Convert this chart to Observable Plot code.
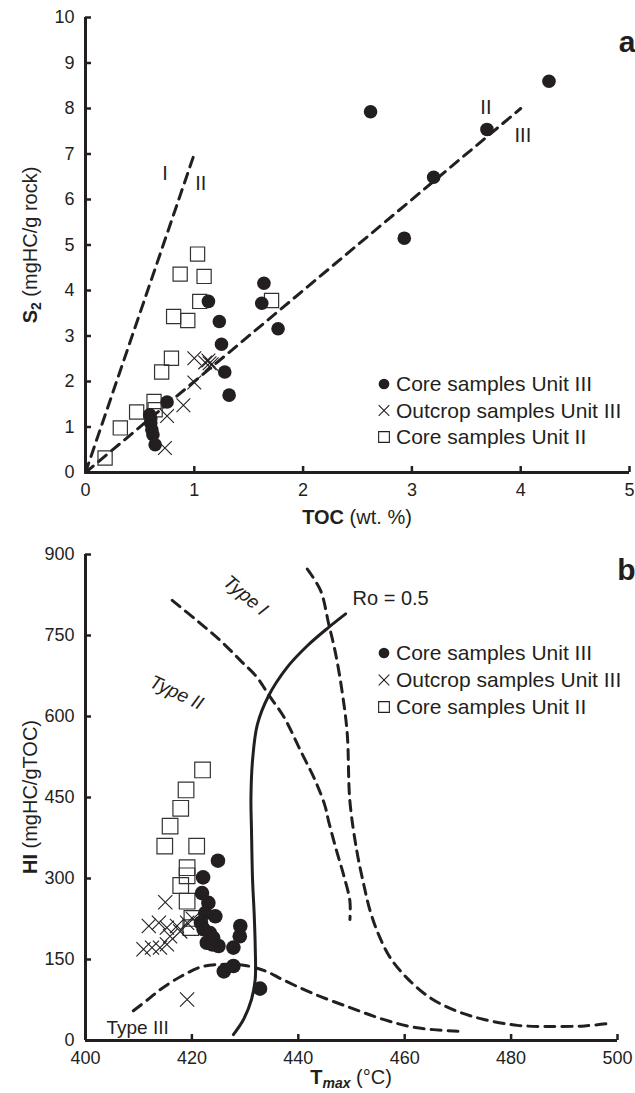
<!DOCTYPE html>
<html><head><meta charset="utf-8">
<script src="https://cdn.jsdelivr.net/npm/d3@7"></script>
<script src="https://cdn.jsdelivr.net/npm/@observablehq/plot@0.6"></script>
<style>
body{margin:0;background:#fff;font-family:"Liberation Sans",Arial,sans-serif;}
#chart{width:635px;height:1093px;overflow:hidden;}
svg{display:block}
</style></head><body><div id="chart"></div>
<script>
// ---------- Panel a : S2 vs TOC ----------
const aXTicks = [0,1,2,3,4,5];
const aYTicks = [0,1,2,3,4,5,6,7,8,9,10];
const aCoreIII_TOC = [4.26,2.62,3.69,3.20,2.93,1.64,1.62,1.77,1.13,1.23,1.25,1.28,1.32,0.75,0.59,0.60,0.61,0.62,0.64,0.60];
const aCoreIII_S2  = [8.60,7.93,7.54,6.49,5.15,4.16,3.72,3.16,3.76,3.32,2.82,2.21,1.70,1.55,1.27,1.09,0.94,0.83,0.61,1.18];
const aOutcropIII_TOC = [1.00,1.10,1.13,1.16,1.14,1.00,0.90,0.75,0.73];
const aOutcropIII_S2  = [2.51,2.42,2.46,2.38,2.40,1.98,1.48,1.24,0.54];
const aCoreII_TOC = [1.03,0.87,1.09,1.05,1.71,0.81,0.94,0.79,0.70,0.63,0.64,0.47,0.32,0.18];
const aCoreII_S2  = [4.80,4.36,4.31,3.76,3.78,3.43,3.34,2.51,2.21,1.56,1.38,1.33,0.98,0.32];
const aLineI_TOC = [0,1],  aLineI_S2 = [0,7];
const aLineIII_TOC = [0,4], aLineIII_S2 = [0,8];
const aNoteText = ["I","II","II","III"];
const aNoteTOC  = [0.73,1.06,3.68,4.02];
const aNoteS2   = [6.58,6.36,8.03,7.41];

// ---------- Panel b : HI vs Tmax ----------
const bXTicks = [400,420,440,460,480,500];
const bYTicks = [0,150,300,450,600,750,900];
const bCoreIII_T  = [424.9,422.1,421.9,423.1,424.4,422.2,423.4,429.1,429.0,422.8,425.0,427.8,426.0,427.8,432.8,422.5,421.7,423.8,424.0];
const bCoreIII_HI = [333,302,273,255,230,206,199,212,193,181,175,172,128,138,96,236,218,178,190];
const bOutcropIII_T  = [415.0,411.9,413.8,415.3,417.2,417.8,419.1,410.9,412.5,414.0,415.3,415.9,419.1,420.2];
const bOutcropIII_HI = [256,212,218,209,212,202,218,169,172,172,178,193,76,225];
const bCoreII_T  = [422.0,418.9,417.9,415.9,414.9,420.9,419.1,419.1,417.9,419.1,420.0,419.8];
const bCoreII_HI = [501,464,430,397,360,360,320,305,287,258,226,209];
const bRo_T  = [427.8,429.7,431.2,431.9,431.9,431.7,431.4,431.2,431.1,431.4,432.3,434.4,437.9,441.7,445.7,448.9];
const bRo_HI = [11,39,76,113,175,236,298,391,450,519,585,638,691,731,765,790];
const bTypeI_T  = [441.7,444.2,445.7,447.0,448.3,449.2,449.7,451.0,452.3,453.5,455.1,457.3,460.4,464.8,469.9,474.9,481.2,487.5,493.8,497.9];
const bTypeI_HI = [873,833,772,717,642,568,443,351,289,240,196,153,116,79,54,39,28,26,27,31];
const bTypeII_T  = [416.3,420.9,425.3,429.1,432.2,434.5,437.3,440.4,443.2,445.0,445.7,447.2,448.5,449.7,449.7];
const bTypeII_HI = [815,778,741,704,673,639,599,537,481,435,406,351,307,258,224];
const bTypeIII_T  = [409,412,414,418,422,426,430,434,437,443,450,456,462,470];
const bTypeIII_HI = [55,78,94,119,137,141,139,128,113,86,60,39,24,17];
const bTypeText = ["Type I","Type II"];
const bTypeT    = [430.1,417.1];
const bTypeHI   = [824,644];
const bTypeRot  = [40,25];
const bType3 = {text: "Type III", T: 409.8, HI: 24};
const bRoLabel = {text: "Ro = 0.5", T: 450.2, HI: 818};

const legendLabels = ["Core samples Unit III","Outcrop samples Unit III","Core samples Unit II"];

const ink = "#231f20";
const FONT = "Liberation Sans, Arial, Helvetica, sans-serif";
const pts = (xs, ys) => xs.map((x,i) => ({x, y: ys[i]}));
const dash = "10,7";

function axes(xT, yT) {
  return [
    Plot.axisY({ticks: yT, tickSize: -6, tickPadding: 17, tickFormat: d => String(d), strokeWidth: 2.5, label: null, fontSize: 18, fill: ink, stroke: ink}),
    Plot.axisX({ticks: xT, tickSize: -6, tickPadding: 17, tickFormat: d => String(d), strokeWidth: 2.5, label: null, fontSize: 18, fill: ink, stroke: ink}),
    Plot.ruleX([xT[0]], {stroke: ink, strokeWidth: 3}),
    Plot.ruleY([yT[0]], {stroke: ink, strokeWidth: 3})
  ];
}
function samples(core3, out3, core2, rc, rs, rx) {
  return [
    Plot.dot(core2, {x:"x", y:"y", symbol:"square", r: rs, stroke: "#333", fill: "none", strokeWidth: 1.2}),
    Plot.dot(out3, {x:"x", y:"y", symbol:"times", r: rx, stroke: ink, strokeWidth: 1.1}),
    Plot.dot(core3, {x:"x", y:"y", r: rc, fill: ink, stroke: "none"})
  ];
}
function addLegend(svg, x0, y0, dy) {
  const g = d3.select(svg).append("g").attr("font-family", FONT).attr("font-size", 21).attr("fill", ink).attr("text-anchor", "start");
  const syms = [d3.symbol(d3.symbolCircle, 90)(), d3.symbol(d3.symbolTimes, 75)(), d3.symbol(d3.symbolSquare, 115)()];
  syms.forEach((p, i) => {
    const y = y0 + i*dy;
    const path = g.append("path").attr("d", p).attr("transform", `translate(${x0},${y})`);
    if (i === 0) path.attr("fill", ink);
    else path.attr("fill", "none").attr("stroke", ink).attr("stroke-width", 1.1);
    g.append("text").attr("x", x0 + 12).attr("y", y).attr("dy", "0.35em").text(legendLabels[i]);
  });
}
function title(svg, x, y, parts, rotate) {
  const t = d3.select(svg).append("text").attr("font-family", FONT).attr("font-size", 20).attr("fill", ink)
    .attr("text-anchor", "middle")
    .attr("transform", `translate(${x},${y})` + (rotate ? " rotate(-90)" : ""));
  parts.forEach(p => {
    const s = t.append("tspan").text(p.t);
    if (p.b) s.attr("font-weight", "bold");
    if (p.i) s.attr("font-style", "italic");
    if (p.sub) s.attr("font-size", 14).attr("dy", 4);
    if (p.reset) s.attr("dy", -4);
  });
}

const plotA = Plot.plot({
  width: 635, height: 540, marginTop: 17, marginBottom: 68, marginLeft: 85, marginRight: 6,
  style: {fontFamily: FONT, fontSize: "18px", color: ink, background: "white", overflow: "visible"},
  x: {domain: [0,5]}, y: {domain: [0,10]},
  marks: [
    ...axes(aXTicks, aYTicks),
    Plot.line(pts(aLineI_TOC, aLineI_S2), {x:"x", y:"y", stroke: ink, strokeWidth: 3, strokeDasharray: dash}),
    Plot.line(pts(aLineIII_TOC, aLineIII_S2), {x:"x", y:"y", stroke: ink, strokeWidth: 3, strokeDasharray: dash}),
    ...samples(pts(aCoreIII_TOC, aCoreIII_S2), pts(aOutcropIII_TOC, aOutcropIII_S2), pts(aCoreII_TOC, aCoreII_S2), 6.8, 8, 6.3),
    Plot.text(aNoteText, {x: (d,i) => aNoteTOC[i], y: (d,i) => aNoteS2[i], text: d => d, fontSize: 20, fill: ink}),
    Plot.text(["a"], {frameAnchor: "top-right", text: d => d, fontSize: 30, fontWeight: "bold", fill: ink, textAnchor: "end", dx: 6, dy: 13})
  ]
});
title(plotA, 357, 524, [{t: "TOC", b: true}, {t: " (wt. %)"}], false);
title(plotA, 37, 245, [{t: "S", b: true}, {t: "2", b: true, sub: true}, {t: " (mgHC/g rock)", reset: true}], true);
addLegend(plotA, 384, 384, 26.5);

const plotB = Plot.plot({
  width: 635, height: 553, marginTop: 14, marginBottom: 53, marginLeft: 85, marginRight: 18,
  style: {fontFamily: FONT, fontSize: "18px", color: ink, background: "white", overflow: "visible"},
  x: {domain: [400,500]}, y: {domain: [0,900]},
  marks: [
    ...axes(bXTicks, bYTicks),
    Plot.line(pts(bTypeI_T, bTypeI_HI), {x:"x", y:"y", stroke: ink, strokeWidth: 3, strokeDasharray: dash, curve: "catmull-rom"}),
    Plot.line(pts(bTypeII_T, bTypeII_HI), {x:"x", y:"y", stroke: ink, strokeWidth: 3, strokeDasharray: dash, curve: "catmull-rom"}),
    Plot.line(pts(bTypeIII_T, bTypeIII_HI), {x:"x", y:"y", stroke: ink, strokeWidth: 3, strokeDasharray: dash, curve: "catmull-rom"}),
    Plot.line(pts(bRo_T, bRo_HI), {x:"x", y:"y", stroke: ink, strokeWidth: 3, curve: "catmull-rom"}),
    ...samples(pts(bCoreIII_T, bCoreIII_HI), pts(bOutcropIII_T, bOutcropIII_HI), pts(bCoreII_T, bCoreII_HI), 7.3, 8.8, 6.5),
    Plot.text(bTypeText, {x: (d,i) => bTypeT[i], y: (d,i) => bTypeHI[i], text: d => d, rotate: (d,i) => bTypeRot[i],
      fontStyle: "italic", fontSize: 19, fill: ink}),
    Plot.text([bType3], {x: "T", y: "HI", text: "text", fontSize: 19, fill: ink}),
    Plot.text([bRoLabel], {x: "T", y: "HI", text: "text", textAnchor: "start", fontSize: 20, fill: ink}),
    Plot.text(["b"], {frameAnchor: "top-right", text: d => d, fontSize: 30, fontWeight: "bold", fill: ink, textAnchor: "end", dx: 18, dy: 4})
  ]
});
title(plotB, 351, 544, [{t: "T", b: true}, {t: "max", b: true, i: true, sub: true}, {t: " (°C)", reset: true}], false);
title(plotB, 37, 257, [{t: "HI", b: true}, {t: " (mgHC/gTOC)"}], true);
addLegend(plotB, 384, 113, 27);

document.getElementById("chart").append(plotA, plotB);
</script></body></html>
